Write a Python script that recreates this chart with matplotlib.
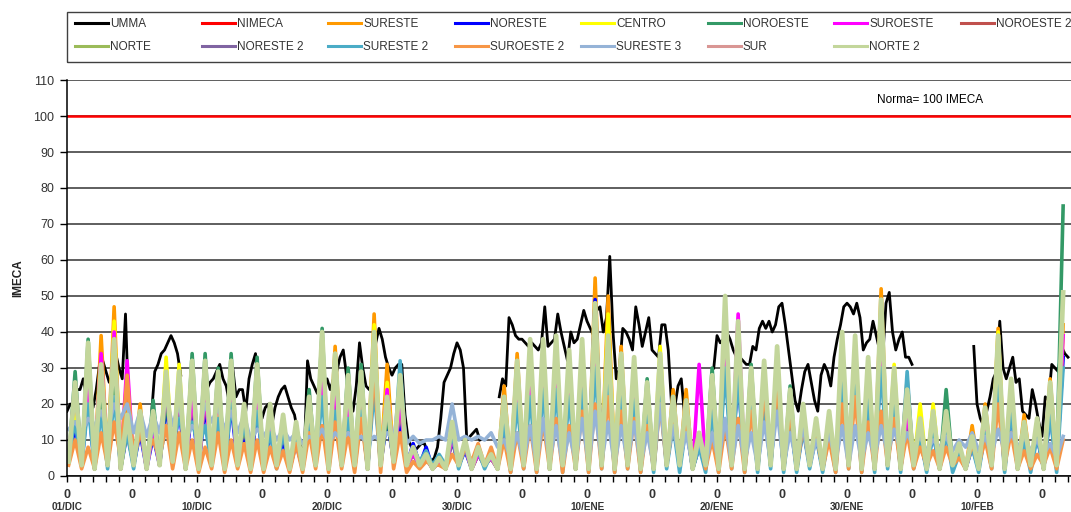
import numpy as np
import matplotlib
matplotlib.use("Agg")
from matplotlib import pyplot as plt
from matplotlib.patches import Rectangle
from matplotlib.ticker import MultipleLocator
from matplotlib.transforms import blended_transform_factory

plt.rcParams['font.family'] = ['Liberation Sans', 'DejaVu Sans']

nan = float('nan')

# UMMA (maximo de la red), one value every 6 h, one row per day
umma = [
    18, 20, 19, 24,  24, 27, 22, 20,  19, 24, 31, 32,  29, 26, 28, 34,  30, 27, 45, 18,
    nan, nan, nan, nan,  nan, nan, 17, 29,  31, 34, 35, 37,  39, 37, 34, 28,  nan, nan, nan, nan,
    nan, nan, nan, 24,  26, 27, 29, 31,  27, 25, 20, 30,  22, 24, 24, 18,  27, 31, 34, 22,
    16, 19, 20, 14,  19, 22, 24, 25,  22, 19, 17, 12,  8, 6, 32, 27,  25, 23, 22, 25,
    27, 24, 27, 29,  33, 35, 28, 22,  18, 25, 37, 30,  25, 24, 26, 37,  41, 38, 33, 30,
    28, 30, 31, 31,  17, 10, 8, 7,  8, 9, 9, 6,  4, 5, 8, 16,  26, 28, 30, 34,
    37, 35, 30, 10,  11, 12, 13, 10,  nan, nan, nan, nan,  nan, 22, 27, 25,  44, 42, 39, 38,
    38, 37, 36, 37,  36, 35, 37, 47,  36, 37, 38, 45,  40, 36, 32, 40,  37, 38, 42, 46,
    43, 41, 39, 46,  47, 40, 44, 61,  40, 27, 30, 41,  40, 38, 35, 47,  42, 36, 40, 44,
    35, 34, 33, 42,  42, 35, 20, 19,  25, 27, 17, nan,  nan, nan, nan, nan,  nan, nan, nan, 30,
    39, 37, 38, 40,  38, 35, 33, 33,  32, 31, 31, 36,  35, 41, 43, 41,  43, 40, 42, 47,
    48, 42, 35, 28,  21, 18, 24, 29,  31, 26, 21, 18,  28, 31, 29, 25,  33, 38, 42, 47,
    48, 47, 45, 48,  44, 35, 37, 38,  43, 39, 35, 33,  48, 51, 40, 35,  38, 40, 33, 33,
    31, nan, nan, nan,  nan, nan, nan, nan,  nan, nan, nan, nan,  nan, nan, nan, nan,  nan, nan, nan, 36,
    20, 16, 14, 18,  22, 27, 29, 43,  30, 27, 30, 33,  26, 27, 18, 17,  16, 24, 20, 15,
    11, 22, 21, 31,  30, 29, 36, 34,  33,
]

# daily afternoon maximum / night minimum per station (77 days)
norte2_peak = [26, 37, 31, 38, 17, 18, 18, 29, 29, 32,
               32, 29, 32, 20, 31, 20, 17, 15, 22, 40,
               34, 28, 29, 40, 22, 28, 8, 6, 5, 15,
               10, 8, 6, 22, 32, 38, 38, 39, 35, 38,
               48, 39, 34, 33, 26, 34, 22, 21, 12, 28,
               50, 43, 30, 32, 36, 24, 20, 16, 18, 40,
               39, 33, 49, 30, 24, 16, 18, 18, 9, 11,
               19, 39, 27, 15, 16, 26, 51]
norte2_low = [4, 3, 2, 3, 2, 3, 2, 3, 4, 2,
              2, 3, 2, 3, 2, 2, 3, 2, 2, 3,
              2, 3, 3, 2, 3, 4, 3, 3, 2, 2,
              3, 2, 3, 2, 2, 3, 2, 2, 3, 2,
              2, 3, 2, 3, 2, 2, 3, 3, 2, 3,
              2, 3, 2, 2, 3, 2, 2, 3, 2, 2,
              3, 2, 2, 3, 2, 3, 2, 2, 3, 2,
              2, 3, 2, 2, 3, 2, 3]
sureste_peak = [20, 30, 39, 47, 22, 20, 14, 24, 22, 25,
                26, 22, 24, 16, 24, 15, 14, 11, 18, 32,
                36, 22, 24, 45, 31, 20, 6, 5, 4, 10,
                8, 6, 5, 25, 34, 30, 30, 31, 28, 30,
                55, 50, 36, 26, 20, 27, 24, 24, 9, 22,
                40, 34, 24, 25, 28, 19, 16, 13, 14, 32,
                31, 26, 52, 24, 27, 12, 14, 14, 7, 14,
                20, 41, 21, 17, 12, 27, 42]
centro_peak = [18, 28, 25, 43, 13, 14, 13, 33, 31, 24,
               24, 22, 25, 15, 23, 15, 13, 11, 16, 30,
               26, 21, 22, 42, 26, 20, 6, 5, 4, 11,
               8, 6, 5, 17, 25, 29, 29, 30, 27, 29,
               38, 45, 26, 25, 20, 36, 17, 16, 9, 21,
               38, 33, 23, 24, 28, 18, 15, 12, 14, 31,
               30, 25, 38, 31, 18, 20, 20, 14, 7, 9,
               15, 40, 21, 12, 13, 20, 39]
noroeste_peak = [29, 38, 24, 30, 13, 14, 21, 22, 22, 34,
                 34, 30, 34, 16, 33, 16, 13, 12, 24, 41,
                 26, 30, 31, 30, 17, 22, 6, 5, 4, 12,
                 8, 6, 5, 21, 25, 29, 29, 30, 27, 29,
                 37, 30, 26, 25, 27, 26, 17, 16, 9, 30,
                 38, 33, 31, 24, 28, 25, 15, 12, 14, 31,
                 30, 25, 38, 23, 19, 12, 14, 24, 7, 9,
                 15, 30, 21, 12, 13, 20, 75]
suroeste_peak = [26, 28, 34, 40, 32, 14, 13, 26, 24, 24,
                 24, 25, 24, 18, 23, 15, 13, 11, 16, 30,
                 26, 21, 27, 32, 24, 21, 6, 5, 4, 11,
                 8, 6, 5, 17, 25, 29, 29, 30, 27, 34,
                 37, 30, 26, 25, 20, 26, 17, 16, 31, 21,
                 38, 45, 23, 26, 28, 18, 15, 12, 14, 31,
                 30, 25, 38, 23, 18, 12, 14, 14, 7, 9,
                 15, 30, 21, 12, 13, 20, 39]
noreste_peak = [14, 22, 20, 26, 12, 12, 11, 20, 19, 20,
                20, 18, 20, 12, 19, 12, 10, 9, 14, 26,
                22, 18, 19, 28, 16, 15, 9, 8, 5, 10,
                7, 6, 5, 15, 22, 25, 26, 28, 24, 26,
                49, 27, 23, 22, 18, 23, 15, 14, 8, 19,
                34, 28, 20, 21, 24, 16, 13, 11, 12, 27,
                26, 22, 33, 20, 16, 10, 12, 12, 6, 8,
                12, 26, 18, 10, 11, 17, 33]
sureste2_peak = [15, 20, 18, 22, 12, 14, 15, 14, 16, 15,
                 14, 16, 20, 14, 18, 12, 12, 10, 15, 22,
                 18, 16, 18, 24, 20, 32, 8, 7, 6, 12,
                 8, 7, 6, 15, 20, 22, 24, 24, 22, 24,
                 30, 26, 22, 21, 18, 22, 14, 14, 8, 18,
                 30, 28, 20, 21, 24, 16, 13, 11, 12, 26,
                 26, 22, 30, 22, 29, 11, 12, 12, 6, 8,
                 12, 26, 18, 10, 11, 17, 30]
sureste2_low = [6, 3, 2, 2, 3, 2, 3, 5, 9, 10,
                8, 3, 2, 6, 5, 3, 2, 2, 2, 3,
                2, 3, 2, 2, 3, 4, 3, 4, 3, 3,
                2, 3, 2, 2, 1, 2, 1, 2, 1, 2,
                1, 2, 1, 2, 1, 1, 2, 1, 2, 1,
                1, 2, 1, 1, 2, 1, 1, 2, 1, 1,
                2, 1, 1, 2, 1, 2, 1, 2, 1, 2,
                1, 2, 1, 2, 1, 2, 1]
suroeste2_peak = [10, 8, 12, 15, 28, 12, 10, 14, 12, 10,
                  8, 12, 10, 9, 10, 8, 7, 9, 12, 14,
                  15, 12, 16, 30, 22, 12, 4, 4, 3, 6,
                  8, 9, 8, 10, 12, 14, 15, 16, 14, 18,
                  20, 22, 18, 16, 14, 20, 15, 14, 12, 10,
                  14, 16, 18, 24, 26, 18, 14, 12, 10, 20,
                  22, 15, 18, 16, 12, 8, 7, 8, 5, 9,
                  10, 20, 12, 7, 6, 8, 10]
suroeste2_low = [3, 2, 2, 3, 5, 5, 6, 5, 2, 2,
                 1, 2, 1, 2, 1, 1, 2, 1, 1, 2,
                 1, 2, 1, 2, 1, 2, 1, 2, 3, 2,
                 3, 4, 3, 2, 1, 2, 1, 2, 1, 2,
                 1, 2, 1, 2, 1, 2, 3, 6, 5, 2,
                 1, 2, 1, 3, 4, 2, 2, 3, 2, 1,
                 2, 1, 2, 3, 2, 2, 3, 2, 3, 2,
                 3, 2, 3, 2, 2, 3, 2]
sureste3_peak = [15, 16, 18, 20, 20, 18, 17, 22, 20, 14,
                 20, 19, 18, 17, 13, 14, 13, 12, 11, 13,
                 12, 12, 11, 11, 12, 24, 11, 10, 11, 20,
                 11, 11, 12, 10, 12, 14, 16, 14, 12, 16,
                 18, 15, 14, 15, 12, 20, 14, 12, 10, 12,
                 16, 14, 12, 15, 18, 12, 14, 10, 12, 14,
                 14, 12, 14, 13, 12, 11, 10, 11, 10, 12,
                 11, 13, 12, 11, 10, 9, 11]
sureste3_low = [13, 12, 14, 13, 16, 12, 11, 12, 14, 10,
                12, 15, 13, 12, 10, 11, 10, 10, 9, 10,
                9, 10, 10, 9, 10, 10, 9, 9, 10, 10,
                10, 10, 10, 8, 5, 4, 3, 4, 3, 4,
                3, 4, 3, 4, 3, 3, 4, 4, 3, 3,
                4, 3, 4, 3, 4, 3, 4, 3, 5, 4,
                3, 4, 5, 6, 7, 8, 7, 8, 7, 8,
                7, 6, 7, 8, 7, 6, 5]
# stations without data in the period
noroeste2 = []
norte = []
noreste2 = []
sur = []

norma = 100
tick_dates = ["01/DIC", "10/DIC", "20/DIC", "30/DIC", "10/ENE", "20/ENE", "30/ENE", "10/FEB"]


def daily(low, peak):
    # night minimum at 03 h, afternoon maximum at 15 h
    t, v = [], []
    for d, (lo, pk) in enumerate(zip(low, peak)):
        t += [24 * d + 3, 24 * d + 15]
        v += [lo, pk]
    return np.array(t), np.array(v)


fig = plt.figure(figsize=(10.71, 5.12), dpi=100)
ax = fig.add_axes([67 / 1071, 36 / 512, 1004 / 1071, 396 / 512])

lw = 2.6
t_umma = np.arange(len(umma)) * 6
l_umma, = ax.plot(t_umma, umma, color='black', lw=2.0, label='UMMA')
l_nim = ax.axhline(norma, color='#FF0000', lw=1.8, label='NIMECA', zorder=1.5)
l_se, = ax.plot(*daily(norte2_low, sureste_peak), color='#FF9900', lw=lw, label='SURESTE')
l_ne, = ax.plot(*daily(norte2_low, noreste_peak), color='#0000FF', lw=lw, label='NORESTE')
l_ce, = ax.plot(*daily(norte2_low, centro_peak), color='#FFFF00', lw=lw, label='CENTRO')
l_no, = ax.plot(*daily(norte2_low, noroeste_peak), color='#339966', lw=lw, label='NOROESTE')
l_so, = ax.plot(*daily(norte2_low, suroeste_peak), color='#FF00FF', lw=lw, label='SUROESTE')
l_no2, = ax.plot(noroeste2, color='#C0504D', lw=lw, label='NOROESTE 2')
l_n, = ax.plot(norte, color='#9BBB59', lw=lw, label='NORTE')
l_ne2, = ax.plot(noreste2, color='#8064A2', lw=lw, label='NORESTE 2')
l_se2, = ax.plot(*daily(sureste2_low, sureste2_peak), color='#4BACC6', lw=lw, label='SURESTE 2')
l_so2, = ax.plot(*daily(suroeste2_low, suroeste2_peak), color='#F79646', lw=lw, label='SUROESTE 2')
l_se3, = ax.plot(*daily(sureste3_low, sureste3_peak), color='#95B3D7', lw=lw, label='SURESTE 3')
l_sur, = ax.plot(sur, color='#D99694', lw=lw, label='SUR')
l_n2, = ax.plot(*daily(norte2_low, norte2_peak), color='#C3D69B', lw=3.4, label='NORTE 2')

ax.text(1593, 104.4, "Norma= 100 IMECA", ha='center', va='center', fontsize=8.5, color='black')

ax.set_ylim(0, 110)
ax.set_xlim(0, 1853.5)
ax.yaxis.set_major_locator(MultipleLocator(10))
ax.yaxis.grid(True, color='#333333', lw=1.1)
ax.set_axisbelow(True)
for s in ['top', 'right']:
    ax.spines[s].set_visible(False)
ax.spines['left'].set_linewidth(1.1)
ax.spines['bottom'].set_linewidth(1.1)
ax.tick_params(axis='y', direction='out', length=5, width=1, labelsize=9, labelcolor='#333333', pad=4)

ax.xaxis.set_major_locator(MultipleLocator(120))
ax.xaxis.set_minor_locator(MultipleLocator(24))
ax.xaxis.set_major_formatter(plt.FuncFormatter(lambda v, p: "0"))
ax.tick_params(axis='x', which='both', direction='out', length=4, width=1, pad=5)
ax.tick_params(axis='x', which='major', labelsize=9, labelcolor='#333333')
for lab in ax.get_xticklabels():
    lab.set_fontweight('bold')

trans = blended_transform_factory(ax.transData, ax.transAxes)
for i, lab in enumerate(tick_dates):
    ax.text(240 * i, -0.078, lab, transform=trans, ha='center', va='center',
            fontsize=7.2, fontweight='bold', color='#333333')

ax.set_ylabel("IMECA", fontsize=8.5, fontweight='bold', color='#222222')
ax.yaxis.set_label_coords(-0.043, 0.5)

# legend: 8 columns x 2 rows, as in the original workbook
order = [l_umma, l_nim, l_se, l_ne, l_ce, l_no, l_so, l_no2,
         l_n, l_ne2, l_se2, l_so2, l_se3, l_sur, l_n2]
for col in range(8):
    hs = [order[col]] + ([order[col + 8]] if col + 8 < len(order) else [])
    leg = fig.legend(hs, [h.get_label() for h in hs], loc='upper left',
                     bbox_to_anchor=((75 + 126.5 * col) / 1071, 1 - 18 / 512),
                     frameon=False, fontsize=8.5, handlelength=2.8, handletextpad=0.2,
                     labelspacing=0.95, borderpad=0, borderaxespad=0)
    for txt in leg.get_texts():
        txt.set_color('#333333')
    for h in leg.legend_handles:
        h.set_linewidth(2.2)

fig.add_artist(Rectangle((67 / 1071, 1 - 62 / 512), 1040 / 1071, 50 / 512,
                         transform=fig.transFigure, fill=False, ec='#404040', lw=1.0))

fig.savefig("out.png", dpi=100)
